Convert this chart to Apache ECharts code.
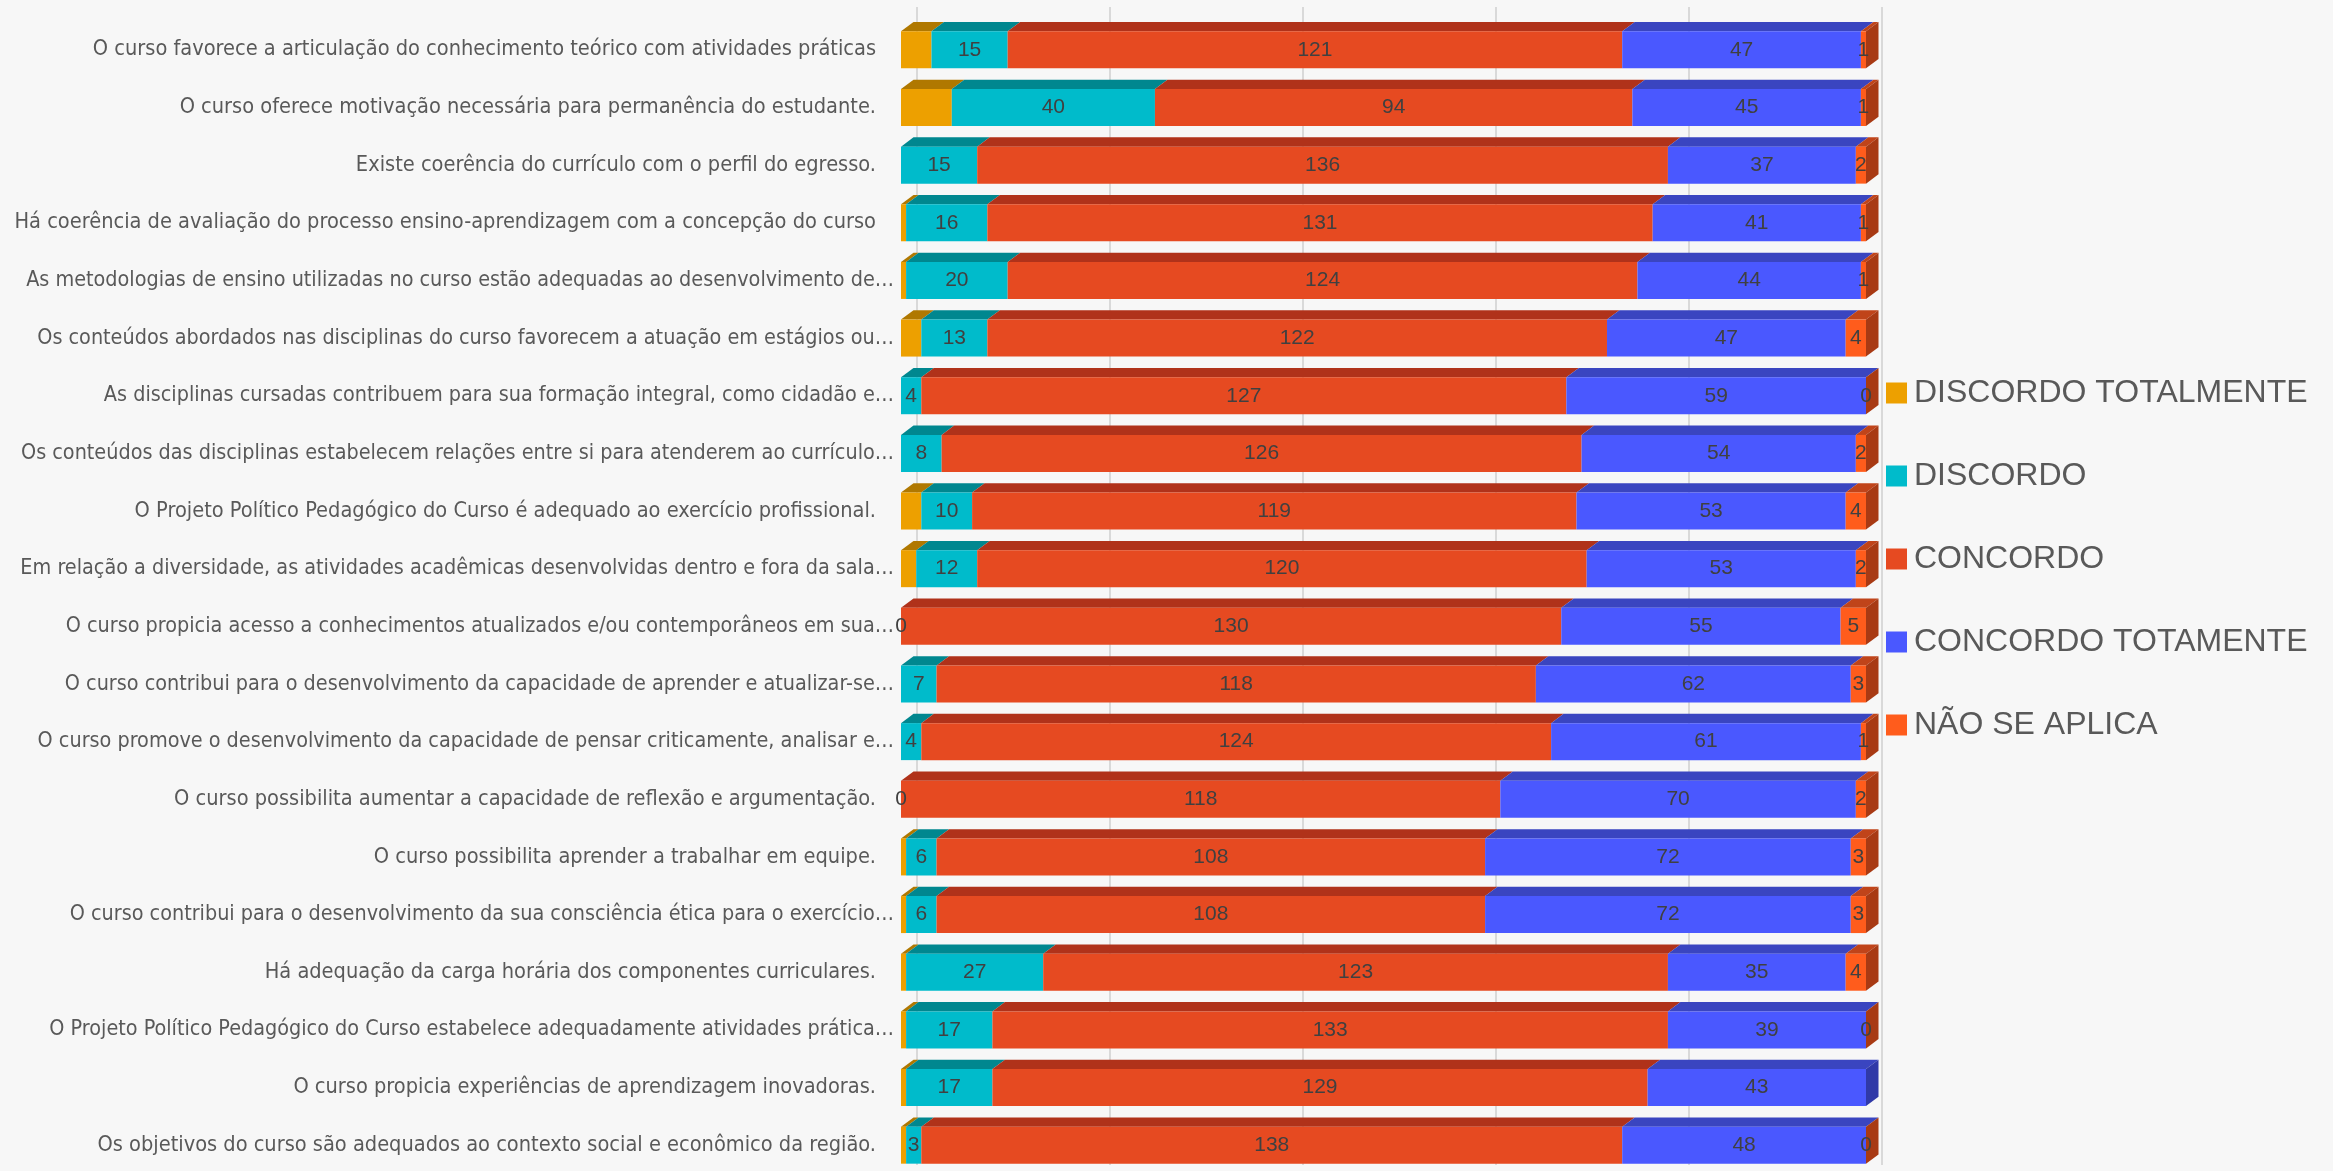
<!DOCTYPE html>
<html>
<head>
<meta charset="utf-8">
<script src="https://cdn.jsdelivr.net/npm/echarts@6/dist/echarts.min.js"></script>
<style>
html,body{margin:0;padding:0;background:#F7F7F7;}
#chart{width:2333px;height:1171px;}
</style>
</head>
<body>
<div id="chart"></div>
<script>
const categories = [
  "O curso favorece a articulação do conhecimento teórico com atividades práticas",
  "O curso oferece motivação necessária para permanência do estudante.",
  "Existe coerência do currículo com o perfil do egresso.",
  "Há coerência de avaliação do processo ensino-aprendizagem com a concepção do curso",
  "As metodologias de ensino utilizadas no curso estão adequadas ao desenvolvimento de…",
  "Os conteúdos abordados nas disciplinas do curso favorecem a atuação em estágios ou…",
  "As disciplinas cursadas contribuem para sua formação integral, como cidadão e…",
  "Os conteúdos das disciplinas estabelecem relações entre si para atenderem ao currículo…",
  "O Projeto Político Pedagógico do Curso é adequado ao exercício profissional.",
  "Em relação a diversidade, as atividades acadêmicas desenvolvidas dentro e fora da sala…",
  "O curso propicia acesso a conhecimentos atualizados e/ou contemporâneos em sua…",
  "O curso contribui para o desenvolvimento da capacidade de aprender e atualizar-se…",
  "O curso promove o desenvolvimento da capacidade de pensar criticamente, analisar e…",
  "O curso possibilita aumentar a capacidade de reflexão e argumentação.",
  "O curso possibilita aprender a trabalhar em equipe.",
  "O curso contribui para o desenvolvimento da sua consciência ética para o exercício…",
  "Há adequação da carga horária dos componentes curriculares.",
  "O Projeto Político Pedagógico do Curso estabelece adequadamente atividades prática…",
  "O curso propicia experiências de aprendizagem inovadoras.",
  "Os objetivos do curso são adequados ao contexto social e econômico da região."
];
const seriesNames = ["DISCORDO TOTALMENTE", "DISCORDO", "CONCORDO", "CONCORDO TOTAMENTE", "NÃO SE APLICA"];
const discordoTotalmente = [6, 10, 0, 1, 1, 4, 0, 0, 4, 3, 0, 0, 0, 0, 1, 1, 1, 1, 1, 1];
const discordo = [15, 40, 15, 16, 20, 13, 4, 8, 10, 12, 0, 7, 4, 0, 6, 6, 27, 17, 17, 3];
const concordo = [121, 94, 136, 131, 124, 122, 127, 126, 119, 120, 130, 118, 124, 118, 108, 108, 123, 133, 129, 138];
const concordoTotamente = [47, 45, 37, 41, 44, 47, 59, 54, 53, 53, 55, 62, 61, 70, 72, 72, 35, 39, 43, 48];
const naoSeAplica = [1, 1, 2, 1, 1, 4, 0, 2, 4, 2, 5, 3, 1, 2, 3, 3, 4, 0, null, 0];
const axisMax = 190;

const allSeries = [discordoTotalmente, discordo, concordo, concordoTotamente, naoSeAplica];
const frontColors = ["#EDA000", "#00BBCB", "#E64A21", "#4A58FF", "#FF5C1C"];
const topColors = ["#B07800", "#00878F", "#B0321A", "#3A45C0", "#C0441A"];
const sideColors = ["#A87000", "#007F88", "#A8341A", "#3039A8", "#A83A14"];
const showLabel = [false, true, true, true, true];

const BAR_H = 37, DX = 12.5, DY = 9.3;
const FONT = "'Liberation Sans', Arial, sans-serif";
const NARROW = "'Liberation Sans Narrow', 'DejaVu Sans Condensed', 'Liberation Sans', sans-serif";

// 3D faces built from the same arrays (segment start/end by cumulative sums)
const faceData = [];
categories.forEach((c, i) => {
  let acc = 0;
  let lastIdx = -1;
  allSeries.forEach((arr, s) => { if (arr[i] !== null && arr[i] !== undefined) lastIdx = s; });
  allSeries.forEach((arr, s) => {
    const v = arr[i];
    if (v === null || v === undefined) return;
    faceData.push([acc, acc + v, i, s, s === lastIdx ? 1 : 0]);
    acc += v;
  });
});

const chart = echarts.init(document.getElementById('chart'), null, {renderer: 'canvas'});

const barSeries = allSeries.map((arr, s) => ({
  name: seriesNames[s],
  type: 'bar',
  stack: 'total',
  xAxisIndex: 0,
  yAxisIndex: 0,
  barWidth: BAR_H,
  data: arr,
  z: 3,
  itemStyle: {color: frontColors[s]},
  label: {
    show: showLabel[s],
    position: 'inside',
    color: '#404040',
    fontSize: 21,
    fontFamily: FONT,
    formatter: p => String(p.value)
  }
}));

const faceSeries = {
  name: 'faces3d',
  type: 'custom',
  xAxisIndex: 0,
  yAxisIndex: 0,
  z: 2,
  silent: true,
  encode: {x: [0, 1], y: 2},
  data: faceData,
  renderItem: function (params, api) {
    const x0 = api.value(0), x1 = api.value(1), row = api.value(2), s = api.value(3), last = api.value(4);
    const a = api.coord([x0, row]);
    const b = api.coord([x1, row]);
    const yTop = a[1] - BAR_H / 2;
    const children = [{
      type: 'polygon',
      shape: {points: [[a[0], yTop], [b[0], yTop], [b[0] + DX, yTop - DY], [a[0] + DX, yTop - DY]]},
      style: {fill: topColors[s]}
    }];
    if (last) {
      children.push({
        type: 'polygon',
        shape: {points: [[b[0], yTop], [b[0] + DX, yTop - DY], [b[0] + DX, yTop + BAR_H - DY], [b[0], yTop + BAR_H]]},
        style: {fill: sideColors[s]}
      });
    }
    return {type: 'group', children: children};
  }
};

const option = {
  backgroundColor: '#F7F7F7',
  animation: false,
  grid: [
    {left: 901, width: 965, top: 21, height: 1153, containLabel: false, outerBoundsMode: 'none'},
    {left: 917, width: 965, top: 7, height: 1158, containLabel: false, outerBoundsMode: 'none'}
  ],
  legend: {
    orient: 'vertical',
    left: 1881,
    top: 368,
    itemWidth: 21,
    itemHeight: 21,
    itemGap: 43,
    icon: 'rect',
    selectedMode: false,
    data: seriesNames,
    textStyle: {fontSize: 32, color: '#595959', fontFamily: FONT, lineHeight: 40, padding: [0, 0, 0, 2]}
  },
  xAxis: [
    {type: 'value', gridIndex: 0, min: 0, max: axisMax, show: false, splitLine: {show: false}},
    {type: 'value', gridIndex: 1, min: 0, max: 5, interval: 1,
      axisLabel: {show: false}, axisLine: {show: false}, axisTick: {show: false},
      splitLine: {show: true, lineStyle: {color: '#D9D9D9', width: 2}}}
  ],
  yAxis: [
    {type: 'category', gridIndex: 0, data: categories, inverse: true,
      axisLine: {show: false}, axisTick: {show: false},
      axisLabel: {
        margin: 7,
        fontSize: 21.4,
        color: '#595959',
        fontFamily: NARROW,
        formatter: v => v.endsWith('…') ? v : '{p|' + v + '}',
        rich: {p: {fontSize: 21.6, color: '#595959', fontFamily: NARROW, padding: [0, 18, 0, 0]}}
      }},
    {type: 'value', gridIndex: 1, show: false, splitLine: {show: false}}
  ],
  series: barSeries.concat([faceSeries])
};
chart.setOption(option);
</script>
</body>
</html>
